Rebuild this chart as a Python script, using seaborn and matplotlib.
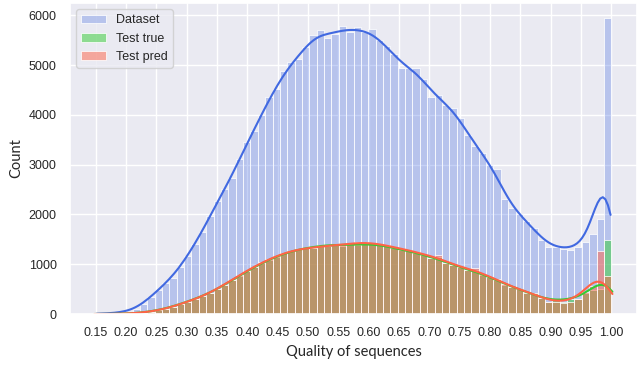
import numpy as np
import pandas as pd
import seaborn as sns
import matplotlib.pyplot as plt

# bin edges of the histogram (70 bins from 0.15 to 1.00)
BIN_START = 0.15
BIN_END = 1.0
N_BINS = 70

# counts per bin
dataset_counts = [
    4, 10, 18, 30, 50, 94, 200, 350, 485, 633,
    720, 942, 1171, 1413, 1642, 1965, 2268, 2504, 2739, 3109,
    3446, 3681, 3998, 4354, 4523, 4873, 5061, 5128, 5364, 5613,
    5700, 5552, 5633, 5788, 5667, 5768, 5667, 5720, 5500, 5384,
    5230, 4950, 4940, 4940, 4724, 4368, 4401, 4200, 4139, 3930,
    3600, 3378, 3244, 2995, 2907, 2302, 2120, 2000, 1864, 1730,
    1480, 1346, 1346, 1306, 1292, 1346, 1440, 1615, 1918, 5950,
]
test_true_counts = [
    0, 1, 2, 4, 8, 15, 28, 50, 75, 105,
    150, 200, 250, 300, 360, 420, 500, 580, 680, 770,
    860, 940, 1030, 1090, 1150, 1220, 1260, 1300, 1330, 1340,
    1380, 1390, 1400, 1360, 1420, 1380, 1400, 1420, 1400, 1360,
    1320, 1290, 1270, 1230, 1190, 1120, 1150, 1020, 990, 940,
    880, 880, 790, 740, 690, 590, 545, 500, 435, 404,
    316, 249, 296, 250, 300, 310, 417, 485, 500, 1480,
]
test_pred_counts = [
    0, 1, 2, 4, 8, 15, 28, 48, 72, 100,
    148, 198, 250, 295, 355, 415, 505, 590, 690, 780,
    870, 950, 1040, 1100, 1160, 1230, 1270, 1310, 1320, 1330,
    1360, 1370, 1380, 1400, 1400, 1440, 1450, 1430, 1410, 1380,
    1340, 1300, 1290, 1250, 1200, 1130, 1190, 1030, 990, 950,
    890, 920, 800, 750, 700, 600, 550, 500, 430, 430,
    320, 249, 249, 229, 249, 310, 440, 572, 1260, 754,
]
x_ticks = [0.15, 0.20, 0.25, 0.30, 0.35, 0.40, 0.45, 0.50, 0.55, 0.60,
           0.65, 0.70, 0.75, 0.80, 0.85, 0.90, 0.95, 1.00]
y_ticks = [0, 1000, 2000, 3000, 4000, 5000, 6000]

edges = list(np.linspace(BIN_START, BIN_END, N_BINS + 1))
centers = [(a + b) / 2 for a, b in zip(edges[:-1], edges[1:])]

df = pd.DataFrame({
    'quality': centers,
    'dataset': dataset_counts,
    'test_true': test_true_counts,
    'test_pred': test_pred_counts,
})

sns.set_theme(style='darkgrid')
plt.rcParams['font.family'] = ['Liberation Sans', 'DejaVu Sans']

fig = plt.figure(figsize=(6.39, 3.65), dpi=100)
ax = fig.add_axes([0.1095, 0.1397, 0.8875, 0.852])

sns.histplot(data=df, x='quality', weights='dataset', bins=edges, kde=True,
             color='royalblue', alpha=0.3, label='Dataset', ax=ax,
             kde_kws={'bw_adjust': 0.23, 'cut': 0.2})
sns.histplot(data=df, x='quality', weights='test_true', bins=edges, kde=True,
             color='limegreen', alpha=0.5, label='Test true', ax=ax,
             kde_kws={'bw_adjust': 0.25, 'cut': 0.3})
sns.histplot(data=df, x='quality', weights='test_pred', bins=edges, kde=True,
             color='tomato', alpha=0.5, label='Test pred', ax=ax,
             kde_kws={'bw_adjust': 0.25, 'cut': 0.3})

ax.set_xlim(0.1075, 1.0425)
ax.set_xticks(x_ticks)
ax.set_xticklabels([f'{t:.2f}' for t in x_ticks], fontsize=9)
ax.set_yticks(y_ticks)
ax.set_yticklabels([str(t) for t in y_ticks], fontsize=9)
ax.set_xlabel('Quality of sequences', fontsize=10.5, family=['Lato', 'DejaVu Sans'])
ax.set_ylabel('Count', fontsize=10.5, family=['Lato', 'DejaVu Sans'])
ax.legend(loc='upper left', fontsize=9)

fig.savefig('out.png', dpi=100)
